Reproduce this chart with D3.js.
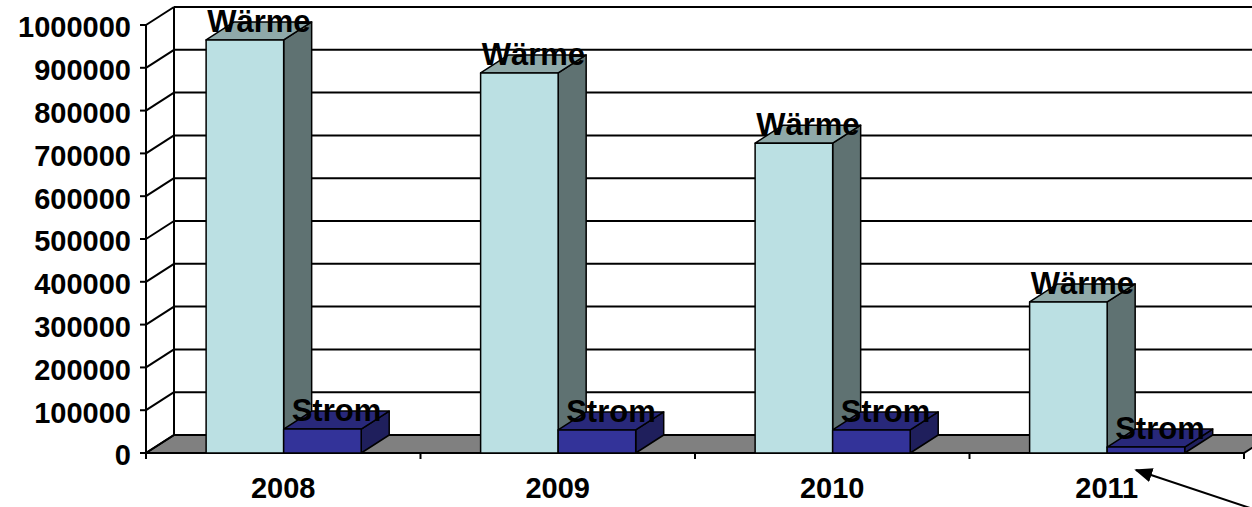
<!DOCTYPE html>
<html>
<head>
<meta charset="utf-8">
<script src="https://cdn.jsdelivr.net/npm/d3@7"></script>
<style>
  body { margin: 0; background: #fff; }
  text { font-family: "Liberation Sans", Arial, sans-serif; font-weight: bold; }
</style>
</head>
<body>
<svg id="chart" width="1252" height="507"></svg>
<script>
// data
const years = ["2008", "2009", "2010", "2011"];
const series = ["Wärme", "Strom"];
const waerme = [965000, 888000, 724000, 353000];
const strom = [56000, 54000, 54000, 14000];
const yTicks = d3.range(0, 1000001, 100000);

const svg = d3.select("#chart");

// 3d offset of the depth
const dx = 28, dy = -18;

const x0 = d3.scaleBand().domain(years).range([146, 1244]);
const bw = x0.bandwidth();
const x1 = d3.scaleBand().domain(series).range([bw * 0.219, bw * 0.784]);
const y = d3.scaleLinear().domain([0, 1000000]).range([453, 25]);

const colors = {
  "Wärme": { front: "#bbe0e3", side: "#5f7272", top: "#8fa9a9" },
  "Strom": { front: "#333399", side: "#1f1f5c", top: "#28287a" }
};

const left = x0.range()[0], right = x0.range()[1];

// floor
svg.append("polygon")
  .attr("points", [[left, y(0)], [right, y(0)], [right + dx, y(0) + dy], [left + dx, y(0) + dy]].join(" "))
  .attr("fill", "#808080")
  .attr("stroke", "#000")
  .attr("stroke-width", 2);

// grid: on side wall and back wall
const grid = svg.append("g").attr("stroke", "#000").attr("stroke-width", 2);
yTicks.forEach(function (t) {
  grid.append("line")
    .attr("x1", left).attr("y1", y(t))
    .attr("x2", left + dx).attr("y2", y(t) + dy);
  if (t > 0) {
    grid.append("line")
      .attr("x1", left + dx).attr("y1", y(t) + dy)
      .attr("x2", right + dx).attr("y2", y(t) + dy);
  }
  // tick mark
  grid.append("line")
    .attr("x1", left - 6).attr("y1", y(t))
    .attr("x2", left).attr("y2", y(t));
});
grid.append("line")
  .attr("x1", left + dx).attr("y1", y(0) + dy)
  .attr("x2", left + dx).attr("y2", y(1000000) + dy);
grid.append("line")
  .attr("x1", left).attr("y1", y(0))
  .attr("x2", left).attr("y2", y(1000000));
grid.append("line")
  .attr("x1", left).attr("y1", y(0))
  .attr("x2", right).attr("y2", y(0));

// category ticks
years.concat(["end"]).forEach(function (d, i) {
  const xx = left + i * bw;
  grid.append("line")
    .attr("x1", xx).attr("y1", y(0))
    .attr("x2", xx).attr("y2", y(0) + 6);
});

// y tick labels
svg.append("g").selectAll("text")
  .data(yTicks)
  .enter().append("text")
  .attr("x", 131)
  .attr("y", d => y(d) + 2)
  .attr("dy", "0.36em")
  .attr("text-anchor", "end")
  .attr("font-size", 29)
  .text(d => d);

// year labels
svg.append("g").selectAll("text")
  .data(years)
  .enter().append("text")
  .attr("x", d => x0(d) + bw / 2)
  .attr("y", 498)
  .attr("text-anchor", "middle")
  .attr("font-size", 29)
  .text(d => d);

// bars
const bars = svg.append("g");
years.forEach(function (yr, i) {
  [["Wärme", waerme[i]], ["Strom", strom[i]]].forEach(function (s) {
    const name = s[0], v = s[1];
    const xa = x0(yr) + x1(name), xb = xa + x1.bandwidth();
    const yt = y(v), yb = y(0);
    const c = colors[name];
    const g = bars.append("g").attr("stroke", "#000").attr("stroke-width", 1.5).attr("stroke-linejoin", "round");
    // side
    g.append("polygon")
      .attr("points", [[xb, yb], [xb + dx, yb + dy], [xb + dx, yt + dy], [xb, yt]].join(" "))
      .attr("fill", c.side);
    // top
    g.append("polygon")
      .attr("points", [[xa, yt], [xb, yt], [xb + dx, yt + dy], [xa + dx, yt + dy]].join(" "))
      .attr("fill", c.top);
    // front
    g.append("rect")
      .attr("x", xa).attr("y", yt)
      .attr("width", xb - xa).attr("height", yb - yt)
      .attr("fill", c.front);
  });
});

// bar labels
years.forEach(function (yr, i) {
  [["Wärme", waerme[i]], ["Strom", strom[i]]].forEach(function (s) {
    svg.append("text")
      .attr("x", x0(yr) + x1(s[0]) + x1.bandwidth() / 2 + dx / 2)
      .attr("y", y(s[1]) - 8)
      .attr("text-anchor", "middle")
      .attr("font-size", 31)
      .text(s[0]);
  });
});

// arrow pointing at 2011
svg.append("defs").append("marker")
  .attr("id", "head")
  .attr("viewBox", "0 0 10 10")
  .attr("refX", 9).attr("refY", 5)
  .attr("markerWidth", 9).attr("markerHeight", 9)
  .attr("orient", "auto")
  .append("path").attr("d", "M0,1 L10,5 L0,9 Z").attr("fill", "#000");
svg.append("line")
  .attr("x1", 1262).attr("y1", 512)
  .attr("x2", 1136).attr("y2", 470)
  .attr("stroke", "#000").attr("stroke-width", 2)
  .attr("marker-end", "url(#head)");
</script>
</body>
</html>
